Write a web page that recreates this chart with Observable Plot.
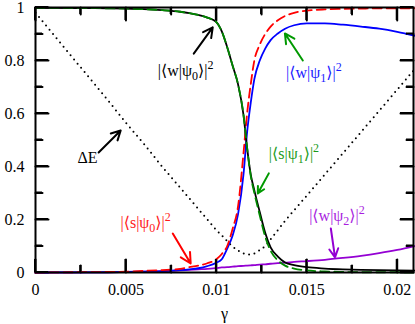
<!DOCTYPE html>
<html><head><meta charset="utf-8">
<script src="https://cdn.jsdelivr.net/npm/d3@7"></script>
<script src="https://cdn.jsdelivr.net/npm/@observablehq/plot@0.6"></script>
<style>body{margin:0;background:#fff}</style>
</head><body><div id="chart"></div>
<script>
const gamma  = [0, 0.002, 0.004, 0.005, 0.006, 0.007, 0.008, 0.0085, 0.009, 0.0095, 0.01, 0.0103, 0.0106, 0.0109, 0.0112, 0.0115, 0.0117, 0.0119, 0.0121, 0.0124, 0.0127, 0.013, 0.0134, 0.0138, 0.0143, 0.015, 0.016, 0.017, 0.018, 0.019, 0.02, 0.021];
const wPsi0  = [0.999, 0.998, 0.997, 0.996, 0.994, 0.99, 0.984, 0.979, 0.972, 0.962, 0.945, 0.91, 0.85, 0.78, 0.71, 0.595, 0.47, 0.37, 0.31, 0.228, 0.15, 0.095, 0.06, 0.038, 0.028, 0.02, 0.015, 0.012, 0.01, 0.009, 0.008, 0.007];
const sPsi1  = [0.999, 0.998, 0.997, 0.996, 0.994, 0.99, 0.984, 0.979, 0.972, 0.962, 0.945, 0.91, 0.85, 0.78, 0.71, 0.595, 0.47, 0.365, 0.3, 0.215, 0.135, 0.082, 0.046, 0.026, 0.015, 0.008, 0.004, 0.002, 0.001, 0.001, 0.001, 0.0];
const wPsi1  = [0, 0.0005, 0.001, 0.002, 0.003, 0.005, 0.009, 0.012, 0.016, 0.024, 0.037, 0.05, 0.09, 0.14, 0.22, 0.37, 0.53, 0.64, 0.73, 0.8, 0.845, 0.877, 0.902, 0.92, 0.933, 0.94, 0.94, 0.935, 0.928, 0.92, 0.908, 0.893];
const sPsi0  = [0, 0.001, 0.002, 0.003, 0.006, 0.009, 0.014, 0.02, 0.026, 0.035, 0.05, 0.07, 0.1, 0.165, 0.25, 0.45, 0.6, 0.71, 0.8, 0.86, 0.9, 0.928, 0.952, 0.968, 0.98, 0.988, 0.993, 0.995, 0.996, 0.997, 0.997, 0.997];
const wPsi2  = [0, 0, 0.001, 0.002, 0.003, 0.005, 0.008, 0.01, 0.012, 0.014, 0.017, 0.019, 0.02, 0.022, 0.024, 0.025, 0.026, 0.027, 0.028, 0.03, 0.031, 0.033, 0.035, 0.037, 0.04, 0.043, 0.048, 0.055, 0.063, 0.073, 0.085, 0.1];
const deltaE = [0.98, 0.815, 0.65, 0.565, 0.485, 0.4, 0.32, 0.28, 0.24, 0.2, 0.16, 0.14, 0.118, 0.098, 0.083, 0.072, 0.068, 0.068, 0.072, 0.085, 0.1, 0.125, 0.16, 0.195, 0.235, 0.29, 0.37, 0.45, 0.53, 0.61, 0.69, 0.77];

const xTicks = [0, 0.005, 0.01, 0.015, 0.02];
const xMinor = [0.0025, 0.0075, 0.0125, 0.0175];
const yTicks = [0, 0.2, 0.4, 0.6, 0.8, 1];
const yMinor = [0.1, 0.3, 0.5, 0.7, 0.9];

const labelText  = ["|⟨w|ψ₀⟩|²", "|⟨w|ψ₁⟩|²", "ΔE", "|⟨s|ψ₁⟩|²", "|⟨s|ψ₀⟩|²", "|⟨w|ψ₂⟩|²"];
const labelX     = [0.0083, 0.01539, 0.00288, 0.01429, 0.00609, 0.01667];
const labelY     = [0.762, 0.755, 0.434, 0.449, 0.189, 0.215];
const labelColor = ["#000000", "#1a1aff", "#000000", "#1a9a1a", "#ff1a1a", "#a81ee0"];

const arrowX1 = [0.00875, 0.01478, 0.00349, 0.0129, 0.00759, 0.01633];
const arrowY1 = [0.826, 0.8, 0.453, 0.374, 0.147, 0.166];
const arrowX2 = [0.0098, 0.01379, 0.00471, 0.01229, 0.00858, 0.01656];
const arrowY2 = [0.925, 0.902, 0.536, 0.298, 0.034, 0.057];
const arrowColor = ["#000000", "#009900", "#000000", "#009900", "#ff0000", "#9400d3"];

const rows = gamma.map((g, i) => ({g, wPsi0: wPsi0[i], sPsi1: sPsi1[i], wPsi1: wPsi1[i], sPsi0: sPsi0[i], wPsi2: wPsi2[i], dE: deltaE[i]}));
const labels = labelText.map((t, i) => ({t, x: labelX[i], y: labelY[i], c: labelColor[i]}));
const arrows = arrowX1.map((x1, i) => ({x1, y1: arrowY1[i], x2: arrowX2[i], y2: arrowY2[i], c: arrowColor[i]}));

const W = 415, H = 324, ML = 35, MR = 2, MT = 7, MB = 52;
const FW = W - ML - MR, FH = H - MT - MB;
const xDom = [0, 0.0209], yDom = [0, 1];
const MAJ = 13, MIN = 7;
const xLen = px => px / FW * (xDom[1] - xDom[0]);
const yLen = px => px / FH * (yDom[1] - yDom[0]);

// each inward tick as a two-point polyline (grouped by id)
const tickPts = [];
let tid = 0;
function addTick(a, b) { tickPts.push({id: tid, ...a}, {id: tid, ...b}); tid++; }
for (const [list, L] of [[xTicks, MAJ], [xMinor, MIN]]) for (const v of list) {
  addTick({x: v, y: yDom[0]}, {x: v, y: yDom[0] + yLen(L)});
  addTick({x: v, y: yDom[1]}, {x: v, y: yDom[1] - yLen(L)});
}
for (const [list, L] of [[yTicks, MAJ], [yMinor, MIN]]) for (const v of list) {
  addTick({x: xDom[0], y: v}, {x: xDom[0] + xLen(L), y: v});
  addTick({x: xDom[1], y: v}, {x: xDom[1] - xLen(L), y: v});
}

const curve = "monotone-x";
const plot = Plot.plot({
  width: W, height: H,
  marginLeft: ML, marginRight: MR, marginTop: MT, marginBottom: MB,
  style: {fontFamily: "'Liberation Serif', 'DejaVu Serif', serif", fontSize: "16px"},
  x: {domain: xDom, label: null},
  y: {domain: yDom, label: null},
  marks: [
    Plot.line(tickPts, {x: "x", y: "y", z: "id", stroke: "#000", strokeWidth: 2, curve: "linear"}),
    Plot.line(rows, {x: "g", y: "dE", stroke: "#000", strokeWidth: 2, strokeDasharray: "0,5.5", strokeLinecap: "round", curve}),
    Plot.line(rows, {x: "g", y: "wPsi2", stroke: "#9400d3", strokeWidth: 1.8, curve}),
    Plot.line(rows, {x: "g", y: "wPsi1", stroke: "#0000ff", strokeWidth: 1.8, curve}),
    Plot.line(rows, {x: "g", y: "sPsi0", stroke: "#ff0000", strokeWidth: 1.8, strokeDasharray: "9,5", curve}),
    Plot.line(rows, {x: "g", y: "wPsi0", stroke: "#000", strokeWidth: 1.8, curve}),
    Plot.line(rows, {x: "g", y: "sPsi1", stroke: "#008800", strokeWidth: 1.8, strokeDasharray: "9,5", curve}),
    Plot.arrow(arrows, {x1: "x1", y1: "y1", x2: "x2", y2: "y2", stroke: "c", strokeWidth: 2, headLength: 11, headAngle: 55}),
    Plot.text(labels, {x: "x", y: "y", text: "t", fill: "c", fontSize: 16, textAnchor: "middle"}),
    Plot.frame({stroke: "#000", strokeWidth: 2}),
    Plot.axisX({anchor: "bottom", ticks: xTicks, tickSize: 0, tickPadding: 11, tickFormat: d => String(d), fontSize: 16, label: "γ", labelAnchor: "center", labelOffset: 46, labelArrow: "none"}),
    Plot.axisY({anchor: "left", ticks: yTicks, tickSize: 0, tickPadding: 11, tickFormat: d => String(d), fontSize: 16, label: null})
  ]
});
document.getElementById("chart").appendChild(plot);

// extra safety: draw the same inward ticks with Plot's own scales directly into the SVG
try {
  const sx = plot.scale("x"), sy = plot.scale("y");
  const g = d3.select(plot).append("g").attr("stroke", "#000").attr("stroke-width", 2);
  for (let i = 0; i < tickPts.length; i += 2) {
    const a = tickPts[i], b = tickPts[i + 1];
    g.append("line")
      .attr("x1", sx.apply(a.x)).attr("y1", sy.apply(a.y))
      .attr("x2", sx.apply(b.x)).attr("y2", sy.apply(b.y));
  }
} catch (e) {}

// render subscripts / superscripts as shifted tspans
const subs = {"₀": "0", "₁": "1", "₂": "2"}, sups = {"²": "2"};
d3.select(plot).selectAll("text").each(function () {
  const t = this.textContent;
  if (!/[₀₁₂²]/.test(t)) return;
  const segs = [];
  for (const ch of t) {
    const kind = subs[ch] ? "sub" : sups[ch] ? "sup" : "n";
    const c = subs[ch] || sups[ch] || ch;
    if (segs.length && segs[segs.length - 1].kind === kind) segs[segs.length - 1].s += c;
    else segs.push({kind, s: c});
  }
  const el = d3.select(this);
  el.text(null);
  let cur = 0;
  for (const sg of segs) {
    const target = sg.kind === "sub" ? 4 : sg.kind === "sup" ? -7 : 0;
    const ts = el.append("tspan").text(sg.s).attr("dy", (target - cur) + "px");
    if (sg.kind !== "n") ts.attr("font-size", "12px");
    cur = target;
  }
});
</script>
</body></html>
